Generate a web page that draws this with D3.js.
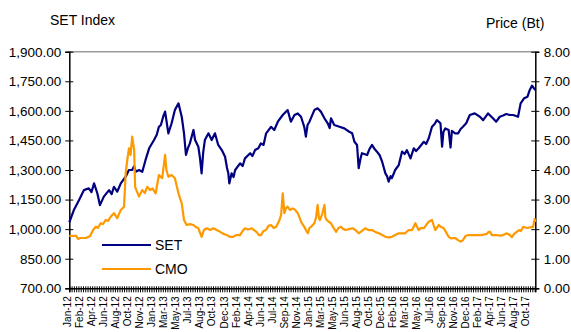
<!DOCTYPE html>
<html lang="en">
<head>
<meta charset="utf-8">
<script src="https://d3js.org/d3.v7.min.js"></script>
<style>
  body { margin: 0; background: white; }
  svg { font-family: "Liberation Sans", Arial, sans-serif; }
</style>
</head>
<body>
<div id="chart"></div>
<script>
// x labels (one every 37 trading days)
const xLabels = ["Jan-12","Feb-12","Apr-12","Jun-12","Aug-12","Oct-12","Nov-12","Jan-13","Mar-13","May-13",
  "Jul-13","Aug-13","Oct-13","Dec-13","Feb-14","Apr-14","Jun-14","Jul-14","Sep-14","Nov-14",
  "Jan-15","Mar-15","May-15","Jun-15","Aug-15","Oct-15","Dec-15","Feb-16","Mar-16","May-16",
  "Jul-16","Sep-16","Nov-16","Dec-16","Feb-17","Apr-17","Jun-17","Aug-17","Oct-17"];
const labelStep = 37;
const lastDay = 1430;

const leftTicks = [700, 850, 1000, 1150, 1300, 1450, 1600, 1750, 1900];
const rightTicks = [0, 1, 2, 3, 4, 5, 6, 7, 8];

// [trading day, SET index]
const setSeries = [[0,1035],[14,1097],[30,1148],[45,1198],[60,1207],[68,1188],[76,1232],[86,1182],[94,1122],
  [106,1165],[122,1198],[130,1178],[137,1215],[147,1190],[158,1232],[173,1266],[183,1300],[193,1300],[199,1320],
  [204,1291],[214,1300],[224,1291],[234,1351],[245,1410],[260,1452],[268,1477],[275,1519],[281,1528],[288,1570],
  [294,1596],[304,1486],[314,1537],[324,1604],[335,1638],[345,1570],[352,1486],[358,1376],[364,1411],[370,1435],
  [381,1503],[386,1452],[396,1418],[401,1361],[406,1283],[411,1391],[416,1452],[427,1486],[437,1452],[447,1486],
  [457,1427],[468,1401],[478,1367],[484,1310],[488,1283],[491,1232],[498,1283],[504,1264],[509,1300],[524,1334],
  [532,1320],[539,1359],[555,1385],[562,1371],[570,1401],[580,1410],[588,1435],[596,1427],[604,1486],[619,1519],
  [629,1503],[640,1545],[655,1579],[670,1604],[680,1545],[691,1579],[701,1587],[711,1570],[721,1519],[726,1469],
  [731,1528],[737,1545],[752,1604],[762,1613],[772,1596],[783,1562],[793,1537],[799,1513],[803,1562],[813,1528],
  [829,1519],[844,1511],[859,1494],[868,1486],[875,1443],[883,1427],[888,1309],[894,1361],[898,1385],[914,1376],
  [921,1406],[929,1427],[937,1406],[944,1393],[952,1376],[960,1342],[970,1283],[975,1269],[980,1241],[986,1269],
  [990,1259],[1000,1300],[1011,1325],[1021,1393],[1029,1381],[1036,1401],[1047,1359],[1057,1410],[1064,1396],
  [1072,1410],[1088,1443],[1095,1432],[1103,1461],[1113,1519],[1121,1533],[1128,1553],[1139,1537],[1144,1418],
  [1148,1493],[1154,1511],[1164,1503],[1170,1414],[1174,1498],[1184,1486],[1193,1486],[1201,1508],[1208,1519],
  [1218,1537],[1229,1579],[1244,1587],[1260,1570],[1270,1553],[1285,1587],[1293,1574],[1300,1562],[1310,1545],
  [1321,1570],[1331,1576],[1341,1584],[1352,1579],[1362,1579],[1371,1574],[1377,1570],[1385,1638],[1396,1664],
  [1406,1672],[1413,1706],[1420,1728],[1426,1714],[1430,1706]];

// [trading day, CMO price in Bt]
const cmoSeries = [[0,1.77],[21,1.77],[27,1.67],[33,1.70],[51,1.70],[64,1.77],[73,1.97],[81,2.08],[88,2.04],
  [96,2.20],[103,2.17],[112,2.31],[119,2.28],[127,2.42],[137,2.54],[147,2.37],[158,2.65],[168,2.76],[173,3.89],
  [178,4.34],[183,4.73],[188,4.51],[193,5.13],[199,4.68],[202,3.43],[208,3.26],[214,3.10],[224,3.32],[232,3.22],
  [239,3.43],[248,3.32],[255,3.38],[265,3.21],[275,3.83],[285,3.72],[294,4.51],[298,4.00],[304,3.77],[314,3.83],
  [324,3.72],[335,3.21],[345,2.87],[352,2.31],[360,2.14],[370,2.17],[381,2.14],[389,2.07],[396,2.03],[406,1.74],
  [413,1.97],[422,2.03],[432,1.97],[442,2.03],[452,1.97],[463,1.91],[473,1.84],[483,1.80],[493,1.74],[503,1.74],
  [513,1.80],[524,1.80],[532,1.94],[539,2.03],[548,1.99],[560,2.03],[567,1.97],[575,1.90],[582,1.80],[588,1.80],
  [596,1.94],[604,1.97],[611,2.11],[619,2.14],[627,2.04],[635,2.08],[645,2.31],[650,2.48],[655,3.21],[660,2.54],
  [665,2.71],[670,2.76],[677,2.65],[686,2.70],[693,2.65],[701,2.54],[707,2.38],[711,2.25],[721,2.08],[726,1.97],
  [732,1.86],[737,2.04],[742,2.08],[752,2.20],[757,2.38],[762,2.82],[766,2.38],[769,2.31],[776,2.51],[783,2.82],
  [786,2.38],[790,2.31],[797,2.24],[803,2.20],[811,2.04],[819,1.91],[826,2.04],[834,2.08],[841,2.00],[849,1.97],
  [858,2.00],[870,2.03],[878,1.97],[888,1.86],[898,1.94],[908,2.03],[918,1.97],[929,1.97],[940,1.90],[950,1.86],
  [960,1.80],[970,1.74],[980,1.72],[990,1.74],[1000,1.80],[1011,1.86],[1021,1.86],[1031,1.86],[1041,1.97],
  [1052,1.97],[1062,2.20],[1072,1.97],[1079,2.04],[1088,2.03],[1095,2.14],[1103,2.25],[1113,2.31],[1123,1.97],
  [1134,2.14],[1141,2.07],[1149,2.03],[1156,1.90],[1164,1.74],[1171,1.69],[1184,1.70],[1193,1.63],[1201,1.58],
  [1208,1.63],[1216,1.77],[1225,1.80],[1236,1.80],[1250,1.80],[1264,1.80],[1281,1.84],[1287,1.91],[1291,1.91],
  [1297,1.80],[1312,1.80],[1322,1.78],[1331,1.80],[1342,1.86],[1352,1.80],[1358,1.73],[1365,1.84],[1373,1.91],
  [1380,1.97],[1386,1.94],[1393,2.08],[1405,2.04],[1419,2.07],[1423,2.07],[1428,2.34],[1430,2.24]];

const W = 571, H = 332;
const plot = {left: 69.3, right: 535.3, top: 51.7, bottom: 288.3};

const svg = d3.select("#chart").append("svg")
  .attr("width", W).attr("height", H);
svg.append("rect").attr("width", W).attr("height", H).attr("fill", "white");

const x = d3.scaleLinear().domain([0, lastDay]).range([plot.left, plot.right]);
const yL = d3.scaleLinear().domain([700, 1900]).range([plot.bottom, plot.top]);
const yR = d3.scaleLinear().domain([0, 8]).range([plot.bottom, plot.top]);

// top border of plot area
svg.append("line")
  .attr("x1", plot.left).attr("x2", plot.right)
  .attr("y1", plot.top).attr("y2", plot.top)
  .attr("stroke", "#9a9a9a").attr("stroke-width", 1.5);

// left axis
const gL = svg.append("g")
  .attr("transform", "translate(" + plot.left + ",0)")
  .call(d3.axisLeft(yL).tickValues(leftTicks).tickFormat(d3.format(",.2f"))
    .tickSize(4).tickPadding(4));
gL.selectAll(".tick line").attr("x2", -4).attr("x1", 4);
gL.selectAll(".tick text").style("font-size", "13.5px").attr("fill", "#000");
gL.select(".domain").attr("stroke-width", 1.5);

// right axis
const gR = svg.append("g")
  .attr("transform", "translate(" + plot.right + ",0)")
  .call(d3.axisRight(yR).tickValues(rightTicks).tickFormat(d3.format(".2f"))
    .tickSize(4).tickPadding(4.5));
gR.selectAll(".tick line").attr("x1", -4).attr("x2", 4);
gR.selectAll(".tick text").style("font-size", "13.5px").attr("fill", "#000");
gR.select(".domain").attr("stroke-width", 1.5);

// bottom axis: dense tick comb
const gB = svg.append("g")
  .attr("transform", "translate(0," + plot.bottom + ")")
  .call(d3.axisBottom(x).tickValues(d3.range(0, lastDay + 1, 7)).tickFormat("").tickSize(4));
gB.selectAll(".tick line").attr("y1", -2);
gB.select(".domain").attr("stroke-width", 1.5);

// bottom axis labels
const gX = svg.append("g")
  .attr("transform", "translate(0," + plot.bottom + ")")
  .call(d3.axisBottom(x)
    .tickValues(xLabels.map((d, i) => i * labelStep))
    .tickFormat((d, i) => xLabels[i])
    .tickSize(0));
gX.select(".domain").remove();
gX.selectAll(".tick text")
  .style("font-size", "10px").attr("fill", "#000")
  .attr("text-anchor", "end")
  .attr("transform", "rotate(-90)")
  .attr("x", -8).attr("y", -2.5).attr("dy", "0.35em");

// lines
const setLine = d3.line().x(d => x(d[0])).y(d => yL(d[1]));
const cmoLine = d3.line().x(d => x(d[0])).y(d => yR(d[1]));

svg.append("path").datum(setSeries)
  .attr("fill", "none").attr("stroke", "#000080").attr("stroke-width", 2.2)
  .attr("stroke-linejoin", "round")
  .attr("d", setLine);
svg.append("path").datum(cmoSeries)
  .attr("fill", "none").attr("stroke", "#ff9900").attr("stroke-width", 2.2)
  .attr("stroke-linejoin", "round")
  .attr("d", cmoLine);

// axis titles
svg.append("text").attr("x", 50).attr("y", 25).text("SET Index").style("font-size", "14px");
svg.append("text").attr("x", 486).attr("y", 28).text("Price (Bt)").style("font-size", "14px");

// legend
const legend = [{name: "SET", color: "#000080"}, {name: "CMO", color: "#ff9900"}];
const lg = svg.append("g");
legend.forEach(function(d, i) {
  lg.append("line")
    .attr("x1", 102).attr("x2", 151)
    .attr("y1", 245 + i * 24).attr("y2", 245 + i * 24)
    .attr("stroke", d.color).attr("stroke-width", 2);
  lg.append("text")
    .attr("x", 155).attr("y", 250 + i * 24)
    .text(d.name).style("font-size", "14px");
});
</script>
</body>
</html>
